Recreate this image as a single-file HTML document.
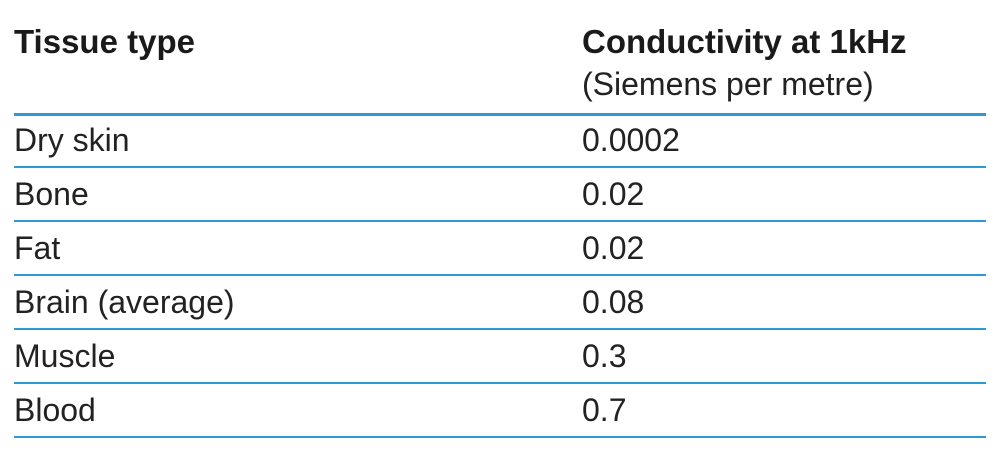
<!DOCTYPE html>
<html><head><meta charset="utf-8"><style>
body{margin:0;width:1000px;height:475px;background:#fff;position:relative;overflow:hidden;font-family:"Liberation Sans",sans-serif;color:#222}
.t{position:absolute;font-size:32px;line-height:1;white-space:nowrap}
.b{font-weight:bold;font-size:33px;color:#1a1a1a}
.l{position:absolute;left:14px;width:972px;background:#2b9ad6;height:2px}
</style></head><body>
<div class="t b" style="left:14px;top:25px">Tissue type</div>
<div class="t b" style="left:582px;top:25px">Conductivity at 1kHz</div>
<div class="t" style="left:582px;top:68px">(Siemens per metre)</div>
<div class="l" style="top:113px;height:3px"></div>
<script>
const tissues=["Dry skin","Bone","Fat","Brain (average)","Muscle","Blood"];
const values=["0.0002","0.02","0.02","0.08","0.3","0.7"];
const root=document.body;
tissues.forEach((name,i)=>{
  const top=116+i*54;
  const a=document.createElement('div');a.className='t';a.style.left='14px';a.style.top=(top+8)+'px';a.textContent=name;
  
  
  root.appendChild(a);
  const b=document.createElement('div');b.className='t';b.style.left='582px';b.style.top=(top+8)+'px';b.textContent=values[i];
  
  
  root.appendChild(b);
  const l=document.createElement('div');l.className='l';l.style.top=(top+50)+'px';
  
  
  root.appendChild(l);
});
</script>
</body></html>
